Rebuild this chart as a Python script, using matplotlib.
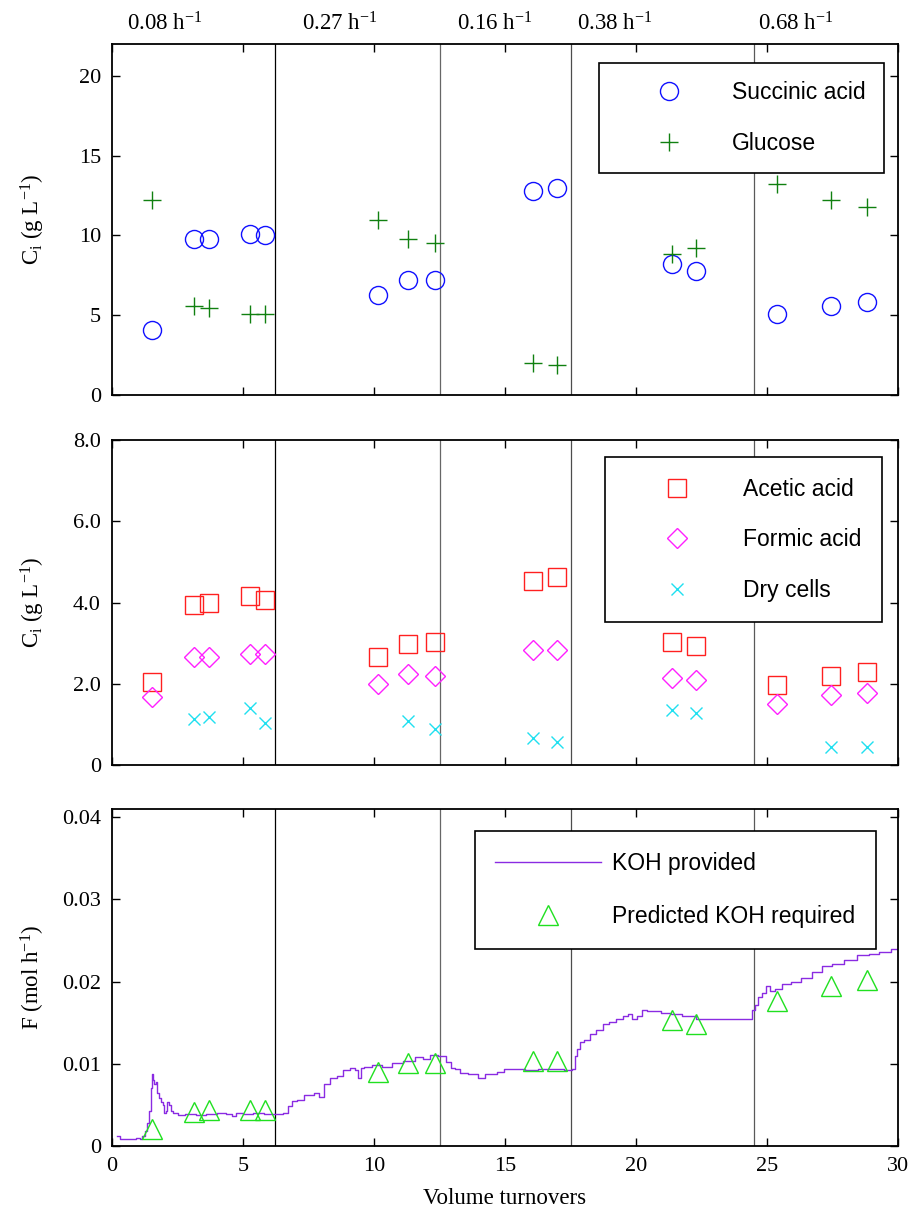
import numpy as np
import matplotlib
matplotlib.use('Agg')
import matplotlib.pyplot as plt

plt.rcParams['font.family'] = ['Liberation Serif', 'DejaVu Serif']
plt.rcParams['mathtext.default'] = 'regular'

# sample times (volume turnovers)
t_samp = [1.53, 3.13, 3.70, 5.27, 5.84, 10.15, 11.3, 12.33, 16.07, 16.98, 21.37, 22.3, 25.4, 27.44, 28.8]
succinic = [4.1, 9.75, 9.75, 10.1, 10.0, 6.25, 7.2, 7.2, 12.8, 12.95, 8.2, 7.75, 5.05, 5.55, 5.8]
glucose = [12.25, 5.55, 5.45, 5.05, 5.05, 10.95, 9.75, 9.55, 2.0, 1.85, 8.85, 9.2, 13.2, 12.25, 11.8]
acetic = [2.05, 3.95, 4.0, 4.15, 4.05, 2.67, 2.99, 3.04, 4.52, 4.62, 3.04, 2.94, 1.98, 2.2, 2.3]
formic = [1.68, 2.67, 2.67, 2.74, 2.74, 2.0, 2.25, 2.2, 2.84, 2.84, 2.15, 2.1, 1.5, 1.73, 1.78]
t_cells = [3.13, 3.70, 5.27, 5.84, 11.3, 12.33, 16.07, 16.98, 21.37, 22.3, 27.44, 28.8]
cells = [1.13, 1.18, 1.41, 1.04, 1.09, 0.89, 0.67, 0.57, 1.36, 1.28, 0.44, 0.44]
koh_pred = [0.0021, 0.0041, 0.0044, 0.0044, 0.0044, 0.0090, 0.0101, 0.0101, 0.0104, 0.0104,
            0.0153, 0.0148, 0.0177, 0.0195, 0.0202]

# KOH provided trace
koh_t = [0.18, 0.4, 0.6, 0.8, 1.0, 1.1, 1.2, 1.3, 1.39, 1.45, 1.51, 1.56, 1.6, 1.64, 1.7, 1.77,
         1.84, 1.9, 1.96, 2.02, 2.08, 2.15, 2.2, 2.28, 2.4, 2.6, 3.0, 3.4, 3.8, 4.2, 4.5, 4.63,
         4.8, 5.2, 5.6, 6.0, 6.4, 6.67, 6.8, 6.92, 7.2, 7.43, 7.6, 7.81, 8.0, 8.19, 8.45, 8.7,
         8.96, 9.2, 9.34, 9.44, 9.55, 9.72, 10.1, 10.5, 10.87, 11.37, 11.76, 12.0, 12.26, 12.65,
         12.84, 13.03, 13.15, 13.41, 13.8, 14.17, 14.3, 14.55, 14.81, 15.12, 15.5, 16.0, 16.5,
         17.0, 17.5, 17.62, 17.7, 17.79, 17.92, 18.1, 18.36, 18.6, 18.87, 19.1, 19.38, 19.6,
         19.76, 19.95, 20.1, 20.33, 20.5, 20.78, 21.1, 21.54, 22.0, 22.56, 23.0, 23.5, 24.0,
         24.35, 24.47, 24.6, 24.73, 24.9, 25.05, 25.21, 25.4, 25.75, 26.1, 26.51, 26.9, 27.28,
         27.7, 28.17, 28.68, 29.1, 29.44, 30.0]
koh_f = [0.0012, 0.0008, 0.0009, 0.0008, 0.0010, 0.0008, 0.0012, 0.0018, 0.0028, 0.0043, 0.0071,
         0.0088, 0.0080, 0.0076, 0.0078, 0.0064, 0.0058, 0.0053, 0.0050, 0.0040, 0.0042, 0.0053,
         0.0050, 0.0043, 0.0040, 0.0038, 0.0039, 0.0038, 0.0039, 0.0040, 0.0039, 0.0036, 0.0040,
         0.0039, 0.0040, 0.0039, 0.0039, 0.0040, 0.0049, 0.0055, 0.0056, 0.0062, 0.0062, 0.0064,
         0.0060, 0.0075, 0.0083, 0.0085, 0.0093, 0.0095, 0.0093, 0.0083, 0.0095, 0.0096, 0.0098,
         0.0096, 0.0101, 0.0104, 0.0108, 0.0106, 0.0111, 0.0110, 0.0102, 0.0095, 0.0094, 0.0089,
         0.0087, 0.0083, 0.0088, 0.0087, 0.0090, 0.0094, 0.0094, 0.0093, 0.0094, 0.0094, 0.0093,
         0.0094, 0.0110, 0.0118, 0.0126, 0.0129, 0.0136, 0.0141, 0.0149, 0.0151, 0.0155, 0.0158,
         0.0161, 0.0155, 0.0158, 0.0166, 0.0164, 0.0164, 0.0162, 0.0161, 0.0158, 0.0155, 0.0155,
         0.0154, 0.0155, 0.0155, 0.0165, 0.0172, 0.0181, 0.0186, 0.0195, 0.0188, 0.0191, 0.0197,
         0.0200, 0.0205, 0.0212, 0.0219, 0.0222, 0.0226, 0.0232, 0.0233, 0.0236, 0.0240]

# dilution rate changes
switches = [6.22, 12.5, 17.5, 24.5]
switch_cols = ['black', '0.4', '0.3', '0.35']
rate_pos = [2.0, 8.7, 14.6, 19.2, 26.1]
rate_labels = ['0.08', '0.27', '0.16', '0.38', '0.68']

W, H = 910, 1215
fig = plt.figure(figsize=(W / 100, H / 100), dpi=100)

def box(top, bottom):
    return [112 / W, 1 - bottom / H, 786 / W, (bottom - top) / H]

ax1 = fig.add_axes(box(44, 395))
ax2 = fig.add_axes(box(440, 765))
ax3 = fig.add_axes(box(809, 1146))

leg_font = {'family': 'Liberation Sans', 'size': 16.5}

for ax in (ax1, ax2, ax3):
    ax.set_xlim(0, 30)
    ax.set_xticks(range(0, 31, 5))
    ax.tick_params(direction='in', top=True, right=True, length=6, width=1,
                   labelsize=16, pad=8)
    for s in ax.spines.values():
        s.set_linewidth(1.3)
    for xs, c in zip(switches, switch_cols):
        ax.axvline(xs, color=c, lw=0.9, zorder=1)
    ax.yaxis.set_label_coords(-0.083, 0.5)

ax1.tick_params(labelbottom=False)
ax2.tick_params(labelbottom=False)

# top panel
ax1.plot(t_samp, succinic, 'o', mfc='none', mec='#1010ff', ms=13, mew=1, label='Succinic acid', zorder=3)
ax1.plot(t_samp, glucose, '+', color='#108010', ms=13, mew=1, label='Glucose', zorder=3)
ax1.set_ylim(0, 22)
ax1.set_yticks([0, 5, 10, 15, 20])
ax1.set_ylabel(r'C$_{i}$ (g L$^{-1}$)', fontsize=16.5)
ax1.legend(loc='upper right', bbox_to_anchor=(0.982, 0.946), borderaxespad=0,
           prop=leg_font, fancybox=False, edgecolor='black', framealpha=1,
           handlelength=4.5, handletextpad=0.5, borderpad=0.8, labelspacing=1.2,
           numpoints=1).get_frame().set_linewidth(1.2)
for xp, lab in zip(rate_pos, rate_labels):
    ax1.text(xp, 1.058, lab + r' h$^{-1}$', transform=ax1.get_xaxis_transform(),
             ha='center', va='center', fontsize=16.5)

# middle panel
ax2.plot(t_samp, acetic, 's', mfc='none', mec='#ff2020', ms=13, mew=1, label='Acetic acid', zorder=3)
ax2.plot(t_samp, formic, 'D', mfc='none', mec='#ff20ff', ms=10.5, mew=1, label='Formic acid', zorder=3)
ax2.plot(t_cells, cells, 'x', color='#20e0f0', ms=8, mew=1, label='Dry cells', zorder=3)
ax2.set_ylim(0, 8)
ax2.set_yticks([0, 2, 4, 6, 8])
ax2.set_yticklabels(['0', '2.0', '4.0', '6.0', '8.0'])
ax2.set_ylabel(r'C$_{i}$ (g L$^{-1}$)', fontsize=16.5)
ax2.legend(loc='upper right', bbox_to_anchor=(0.980, 0.948), borderaxespad=0,
           prop=leg_font, fancybox=False, edgecolor='black', framealpha=1,
           handlelength=4.5, handletextpad=0.65, borderpad=0.9, labelspacing=1.2,
           numpoints=1).get_frame().set_linewidth(1.2)

# bottom panel
ax3.plot(koh_t, koh_f, '-', color='#8a2be2', lw=1.0, drawstyle='steps-mid', label='KOH provided', zorder=2)
ax3.plot(t_samp, koh_pred, '^', mfc='none', mec='#20e020', ms=15, mew=1, label='Predicted KOH required', zorder=3)
ax3.set_ylim(0, 0.041)
ax3.set_yticks([0, 0.01, 0.02, 0.03, 0.04])
ax3.set_yticklabels(['0', '0.01', '0.02', '0.03', '0.04'])
ax3.set_ylabel(r'F (mol h$^{-1}$)', fontsize=16.5)
ax3.set_xlabel('Volume turnovers', fontsize=16.5)
ax3.xaxis.set_label_coords(0.5, -0.125)
ax3.legend(loc='upper right', bbox_to_anchor=(0.972, 0.935), borderaxespad=0,
           prop=leg_font, fancybox=False, edgecolor='black', framealpha=1,
           handlelength=4.6, handletextpad=0.5, borderpad=0.9, labelspacing=1.35,
           numpoints=1).get_frame().set_linewidth(1.2)

fig.savefig('out.png', dpi=100)
